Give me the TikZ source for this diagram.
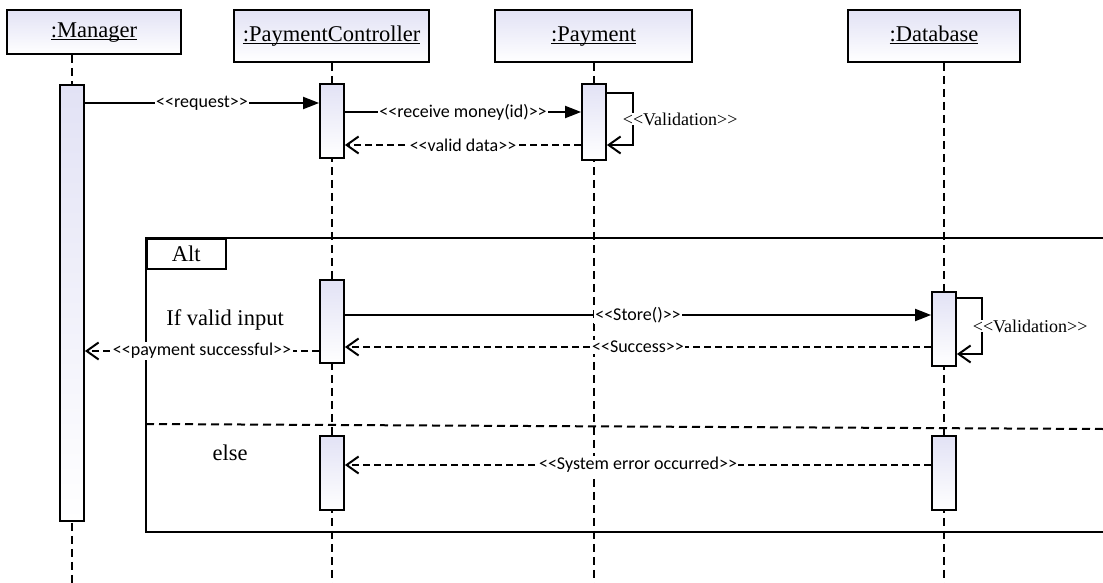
\documentclass[tikz,border=0pt]{standalone}
\usepackage{fontspec}
\setmainfont{Liberation Serif}
\newfontfamily\msgfont{Carlito}
\usetikzlibrary{arrows.meta, backgrounds}
\definecolor{boxtop}{RGB}{226,226,245}
\newcommand\stereo[1]{<{}<#1>{}>}
\newcommand\headname[1]{\underline{\smash{#1}}}

\begin{document}
\begin{tikzpicture}[x=1pt, y=-1pt]
\tikzset{ >={Triangle[length=16pt,width=12pt]},
  head/.style={draw, line width=1.8pt, top color=boxtop, bottom color=white, inner sep=0pt,
    text height=15pt, text depth=4pt, font=\fontsize{22.5}{26}\selectfont},
  bar/.style={draw, line width=1.8pt, top color=boxtop, bottom color=white, minimum width=24, inner sep=0pt, anchor=north},
  life/.style={line width=2pt, dash pattern=on 8pt off 5pt},
  call/.style={line width=2pt, ->},
  reply/.style={line width=2pt, dash pattern=on 7pt off 4pt, -{Straight Barb[length=12pt,width=17pt,line width=2pt]}},
  self/.style={line width=2pt, -{Straight Barb[length=12pt,width=17pt,line width=2pt]}},
  lbl/.style={fill=white, inner sep=1.5pt, font=\msgfont\fontsize{18}{20}\selectfont},
  vlbl/.style={fill=white, inner sep=0pt, anchor=west, font=\fontsize{18}{20}\selectfont},
  note/.style={font=\fontsize{22.5}{26}\selectfont},
}

\useasboundingbox (0,0) rectangle (1103,583);
\clip (0,0) rectangle (1103,583);

% heads
\node [head, minimum width=174, minimum height=44] (mgr) at (94,32)    {\headname{:Manager}};
\node [head, minimum width=195, minimum height=52] (ctl) at (331.5,36) {\headname{:PaymentController}};
\node [head, minimum width=197, minimum height=52] (pay) at (593.5,36) {\headname{:Payment}};
\node [head, minimum width=172, minimum height=52] (db)  at (934,36)   {\headname{:Database}};

% alt frame
\draw [line width=1.5pt] (146,238) rectangle (1120,532);
\node [draw, line width=1.5pt, anchor=north west, minimum width=79, minimum height=30, note] (tab) at (146,238) {Alt};
\node [note] (ifvalid) at (225,320) {If valid input};
\node [note] (else) at (230,453) {else};
\draw [life] (146,424) -- (1103,429);

% activations
\node [bar, minimum height=436] (mgrAct)  at (72,84)  {};
\node [bar, minimum height=74]  (ctlAct1) at (332,83) {};
\node [bar, minimum height=83]  (ctlAct2) at (332,279) {};
\node [bar, minimum height=74]  (ctlAct3) at (332,435) {};
\node [bar, minimum height=76]  (payAct)  at (594,83) {};
\node [bar, minimum height=74]  (dbAct1)  at (944,291) {};
\node [bar, minimum height=74]  (dbAct2)  at (944,435) {};

% lifelines
\begin{scope}[on background layer]
\foreach \h/\a in {mgr/mgrAct, ctl/ctlAct1, pay/payAct, db/dbAct1} {
  \coordinate (\h End) at (\a |- 0,583);
  \draw [life] (\h.south -| \a) -- (\h End);
}
\end{scope}

% messages
\draw [call]  (mgrAct.east |- 0,103)  -- node [lbl] {\stereo{request}} (ctlAct1.west |- 0,103);
\draw [call]  (ctlAct1.east |- 0,112) -- node [lbl] {\stereo{receive money(id)}} (payAct.west |- 0,112);
\draw [reply] (payAct.west |- 0,145)  -- node [lbl] {\stereo{valid data}} (ctlAct1.east |- 0,145);
\draw [self]  (payAct.east |- 0,93) -- ++(26,0) -- node [vlbl, xshift=-11pt] {\stereo{Validation}} ++(0,52) -- (payAct.east |- 0,145);

\draw [call]  (ctlAct2.east |- 0,315) -- node [lbl] {\stereo{Store()}} (dbAct1.west |- 0,315);
\draw [self]  (dbAct1.east |- 0,298) -- ++(25,0) -- node [vlbl, xshift=-10pt] {\stereo{Validation}} ++(0,56) -- (dbAct1.east |- 0,354);
\draw [reply] (dbAct1.west |- 0,347)  -- node [lbl] {\stereo{Success}} (ctlAct2.east |- 0,347);
\draw [reply] (ctlAct2.west |- 0,351) -- node [lbl] {\stereo{payment successful}} (mgrAct.east |- 0,351);

\draw [reply] (dbAct2.west |- 0,465)  -- node [lbl] {\stereo{System error occurred}} (ctlAct3.east |- 0,465);

\end{tikzpicture}
\end{document}
